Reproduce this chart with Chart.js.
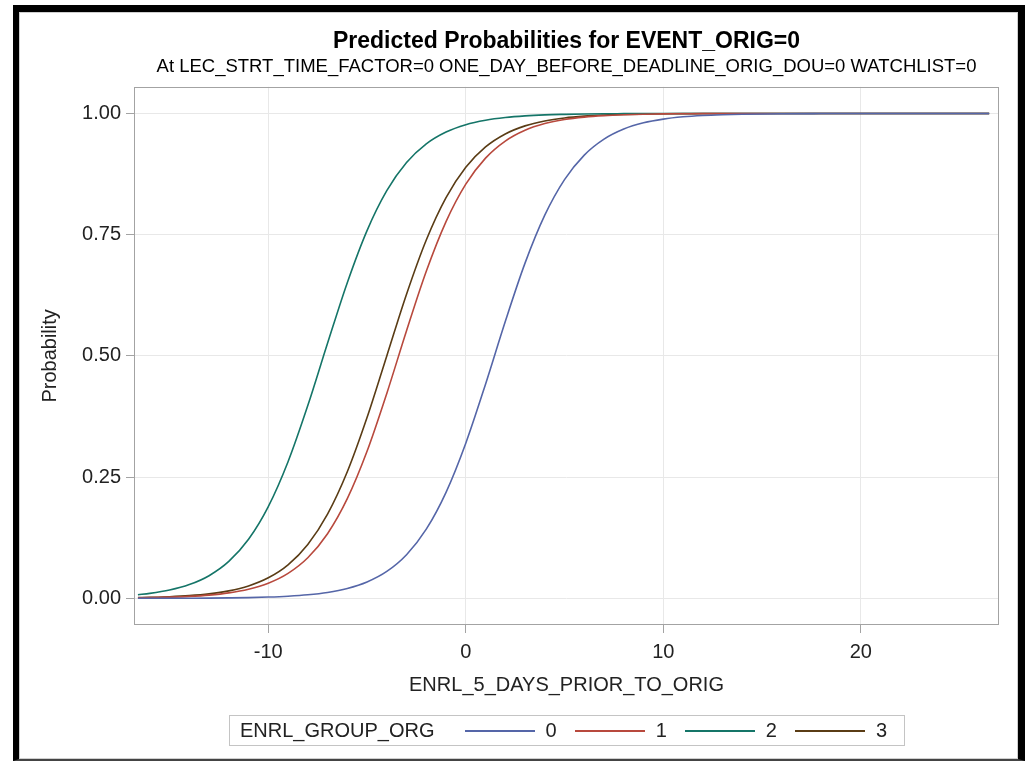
<!DOCTYPE html>
<html>
<head>
<meta charset="utf-8">
<title>Predicted Probabilities</title>
<script src="https://cdn.jsdelivr.net/npm/chart.js@4.4.1/dist/chart.umd.min.js"></script>
<style>
    body { margin: 0; background: #fff; font-family: "Liberation Sans", Arial, sans-serif; }
    #frame {
        position: absolute; left: 13px; top: 5px; width: 1012px; height: 756px;
        box-sizing: border-box;
        border-left: 6px solid #000; border-top: 7px solid #000;
        border-right: 7px solid #000; border-bottom: 2px solid #444;
    }
    #frameInner { position: absolute; left: 0; top: 0; right: 0; bottom: 0; border: 1px solid #cfcfcf; }
    #wrap { position: absolute; left: 0; top: 0; width: 1025px; height: 761px; }
    #legendBox {
        position: absolute; left: 229px; top: 715px; width: 676px; height: 31px;
        box-sizing: border-box; border: 1px solid #c4c4c4;
        display: flex; align-items: center; font-size: 20px; color: #222;
    }
    #legendBox .lgTitle { margin-left: 10px; }
    #legendBox .lgLine { display: inline-block; width: 70px; height: 2px; margin-left: 18px; }
    #legendBox .lgLine.first { margin-left: 30px; }
    #legendBox .lgText { margin-left: 11px; }
</style>
</head>
<body>
<div id="frame"><div id="frameInner"></div></div>
<div id="wrap">
    <canvas id="probChart" width="1025" height="761"></canvas>
    <div id="legendBox"></div>
</div>
<script>
// x positions along ENRL_5_DAYS_PRIOR_TO_ORIG
let xValues = [-16.6, -16, -15, -14, -13, -12, -11, -10, -9, -8, -7, -6, -5, -4, -3, -2, -1,
    0, 1, 2, 3, 4, 5, 6, 7, 8, 9, 10, 11, 12, 13, 14, 16, 18, 20, 22, 24, 26.5];

// predicted probability per ENRL_GROUP_ORG level
let group0 = [0.0001, 0.0001, 0.0002, 0.0003, 0.0005, 0.0009, 0.0015, 0.0026, 0.0044, 0.0073, 0.0122, 0.0204, 0.0338,
    0.0555, 0.0900, 0.1426, 0.2186, 0.3200, 0.4417, 0.5710, 0.6913, 0.7902, 0.8636, 0.9142, 0.9471, 0.9679,
    0.9807, 0.9884, 0.9931, 0.9959, 0.9975, 0.9985, 0.9995, 0.9998, 0.9999, 1, 1, 1];
let group1 = [0.0010, 0.0014, 0.0024, 0.0040, 0.0067, 0.0113, 0.0189, 0.0313, 0.0516, 0.0838, 0.1333, 0.2055, 0.3032,
    0.4226, 0.5518, 0.6744, 0.7769, 0.8542, 0.9079, 0.9431, 0.9654, 0.9791, 0.9875, 0.9925, 0.9955, 0.9973,
    0.9984, 0.9991, 0.9994, 0.9997, 0.9998, 0.9999, 1, 1, 1, 1, 1, 1];
let group2 = [0.0075, 0.0102, 0.0170, 0.0283, 0.0467, 0.0761, 0.1217, 0.1891, 0.2817, 0.3975, 0.5260, 0.6510, 0.7585,
    0.8408, 0.8988, 0.9373, 0.9617, 0.9769, 0.9861, 0.9917, 0.9951, 0.9971, 0.9982, 0.9990, 0.9994, 0.9996,
    0.9998, 0.9999, 1, 1, 1, 1, 1, 1, 1, 1, 1, 1];
let group3 = [0.0014, 0.0020, 0.0033, 0.0055, 0.0092, 0.0154, 0.0256, 0.0423, 0.0691, 0.1111, 0.1737, 0.2611, 0.3729,
    0.5000, 0.6271, 0.7389, 0.8263, 0.8889, 0.9309, 0.9577, 0.9744, 0.9846, 0.9908, 0.9945, 0.9967, 0.9981,
    0.9988, 0.9993, 0.9996, 0.9998, 0.9999, 1, 1, 1, 1, 1, 1, 1];

let groupLabels = ['0', '1', '2', '3'];
let groupColors = ['#5566a8', '#b8493d', '#157568', '#5a3c15'];
let xTicks = [-10, 0, 10, 20];
let yTicks = [0, 0.25, 0.5, 0.75, 1];

let fontFamily = '"Liberation Sans", Arial, sans-serif';

function toPoints(ys) {
    return xValues.map((x, i) => ({ x: x, y: ys[i] }));
}

let seriesList = [group0, group1, group2, group3];
let datasets = seriesList.map((ys, i) => ({
    label: groupLabels[i],
    data: toPoints(ys),
    borderColor: groupColors[i],
    backgroundColor: groupColors[i],
    borderWidth: 1.6,
    pointRadius: 0,
    fill: false,
    cubicInterpolationMode: 'monotone'
}));

// frame round the plot area (all four sides)
let plotFrame = {
    id: 'plotFrame',
    afterDatasetsDraw(chart) {
        let a = chart.chartArea;
        let ctx = chart.ctx;
        ctx.save();
        ctx.strokeStyle = '#a3a3a3';
        ctx.lineWidth = 1;
        ctx.strokeRect(Math.round(a.left) + 0.5, Math.round(a.top) + 0.5,
            Math.round(a.right - a.left) - 1, Math.round(a.bottom - a.top) - 1);
        ctx.restore();
    }
};

let probChart = new Chart(document.getElementById('probChart'), {
    type: 'line',
    data: { datasets: datasets },
    options: {
        responsive: false,
        animation: false,
        devicePixelRatio: 1,
        layout: { padding: { left: 34, right: 26, top: 14, bottom: 60 } },
        plugins: {
            legend: { display: false },
            tooltip: { enabled: false },
            title: {
                display: true,
                fullSize: false,
                text: 'Predicted Probabilities for EVENT_ORIG=0',
                color: '#000',
                font: { family: fontFamily, size: 23, weight: 'bold' },
                padding: { top: 14, bottom: 0 }
            },
            subtitle: {
                display: true,
                fullSize: false,
                text: 'At LEC_STRT_TIME_FACTOR=0 ONE_DAY_BEFORE_DEADLINE_ORIG_DOU=0 WATCHLIST=0',
                color: '#000',
                font: { family: fontFamily, size: 18.5 },
                padding: { top: 0, bottom: 9 }
            }
        },
        scales: {
            x: {
                type: 'linear',
                min: -16.8,
                max: 27,
                afterBuildTicks: s => { s.ticks = xTicks.map(v => ({ value: v })); },
                afterFit: s => { s.height = 76; },
                grid: { color: '#e8e8e8', tickColor: '#a3a3a3', tickLength: 8 },
                border: { display: false },
                ticks: {
                    color: '#222',
                    padding: 7,
                    font: { family: fontFamily, size: 20 },
                    callback: v => String(v)
                },
                title: {
                    display: true,
                    text: 'ENRL_5_DAYS_PRIOR_TO_ORIG',
                    color: '#222',
                    font: { family: fontFamily, size: 20 },
                    padding: { top: 4, bottom: 4 }
                }
            },
            y: {
                type: 'linear',
                min: -0.055,
                max: 1.055,
                afterBuildTicks: s => { s.ticks = yTicks.map(v => ({ value: v })); },
                afterFit: s => { s.width = 100; },
                grid: { color: '#e8e8e8', tickColor: '#a3a3a3', tickLength: 8 },
                border: { display: false },
                ticks: {
                    color: '#222',
                    padding: 5,
                    font: { family: fontFamily, size: 20 },
                    callback: v => v.toFixed(2)
                },
                title: {
                    display: true,
                    text: 'Probability',
                    color: '#222',
                    font: { family: fontFamily, size: 20 },
                    padding: { top: 4, bottom: 4 }
                }
            }
        }
    },
    plugins: [plotFrame]
});

// legend row: group title, then a line sample and label for each dataset
let legendBox = document.getElementById('legendBox');
let html = '<span class="lgTitle">ENRL_GROUP_ORG</span>';
probChart.data.datasets.forEach((ds, i) => {
    html += '<span class="lgLine' + (i === 0 ? ' first' : '') + '" style="background:' + ds.borderColor + '"></span>';
    html += '<span class="lgText">' + ds.label + '</span>';
});
legendBox.innerHTML = html;
</script>
</body>
</html>
